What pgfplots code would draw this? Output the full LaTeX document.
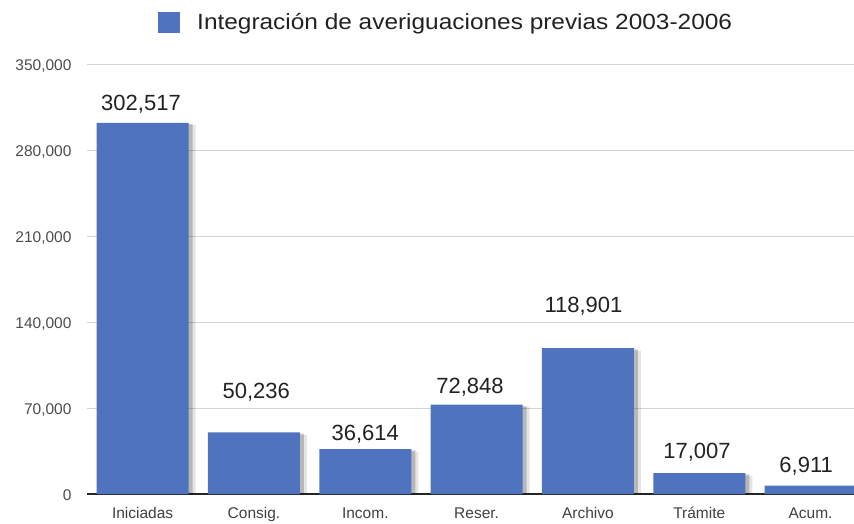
\documentclass[border=0pt]{standalone}
\usepackage{fontspec}
\setmainfont{Liberation Sans}
\newfontfamily\widefont[FakeStretch=1.11]{Liberation Sans}
\usepackage{pgfplots}
\pgfplotsset{compat=1.18}
\definecolor{barblue}{HTML}{4F73BE}
\definecolor{txt}{HTML}{222222}
\begin{document}
\begin{tikzpicture}[x=1pt,y=1pt]
\useasboundingbox (0,0) rectangle (854,523);
\begin{axis}[
  at={(87pt,29pt)}, anchor=south west,
  scale only axis, width=767pt, height=429.5pt,
  xmin=-0.5, xmax=6.39, ymin=0, ymax=350000,
  ytick={0,70000,140000,210000,280000,350000},
  yticklabels={0,70{,}000,140{,}000,210{,}000,280{,}000,350{,}000},
  scaled y ticks=false,
  ymajorgrids, grid style={line width=1pt, draw=black!17},
  axis x line*=bottom, axis y line*=left,
  x axis line style={draw=black!85, line width=1.3pt, -},
  y axis line style={draw=none},
  major tick length=0pt,
  xtick={0,1,2,3,4,5,6},
  xticklabels={Iniciadas,Consig.,Incom.,Reser.,Archivo,Trámite,Acum.},
  xticklabel style={font=\fontsize{15.5}{15.5}\selectfont, text=black!75, anchor=base, yshift=-24pt},
  yticklabel style={font=\fontsize{15.5}{15.5}\selectfont, text=black!70, xshift=-12pt, yshift=-1.5pt},
  legend style={draw=none, fill=none, at={(axis description cs:0.0926,1.0978)}, anchor=west,
    font=\widefont\fontsize{22}{22}\selectfont, text=txt, inner sep=0pt, nodes={inner sep=0pt}},
  legend image code/.code={\fill[barblue] (0pt,-10.5pt) rectangle (22pt,10.5pt);},
  clip=true,
]
\addplot[ybar, bar width=92pt, bar shift=7pt, fill=black, fill opacity=0.10, draw=none, forget plot]
  coordinates {(0,300517) (1,48236) (2,34614) (3,70848) (4,116901) (5,15007) (6,4911)};
\addplot[ybar, bar width=92pt, bar shift=4pt, fill=black, fill opacity=0.20, draw=none, forget plot]
  coordinates {(0,301517) (1,49236) (2,35614) (3,71848) (4,117901) (5,16007) (6,5911)};
\addplot[ybar, bar width=92pt, bar shift=0pt, fill=barblue, draw=none]
  coordinates {(0,302517) (1,50236) (2,36614) (3,72848) (4,118901) (5,17007) (6,6911)};
\addlegendentry{\hspace*{17pt}Integración de averiguaciones previas 2003-2006}
% value labels, placed where the reference shows them
\addplot[draw=none, forget plot, point meta=explicit symbolic, nodes near coords,
  every node near coord/.style={anchor=base, inner sep=0pt, font=\fontsize{22}{22}\selectfont, text=txt}]
  coordinates {(-0.015,312107) [302{,}517] (1.02,78231) [50{,}236] (2.0,44005) [36{,}614]
    (2.94,82305) [72{,}848] (3.96,148312) [118{,}901] (4.98,29336) [17{,}007] (5.96,17928) [6{,}911]};
\end{axis}
\end{tikzpicture}
\end{document}
